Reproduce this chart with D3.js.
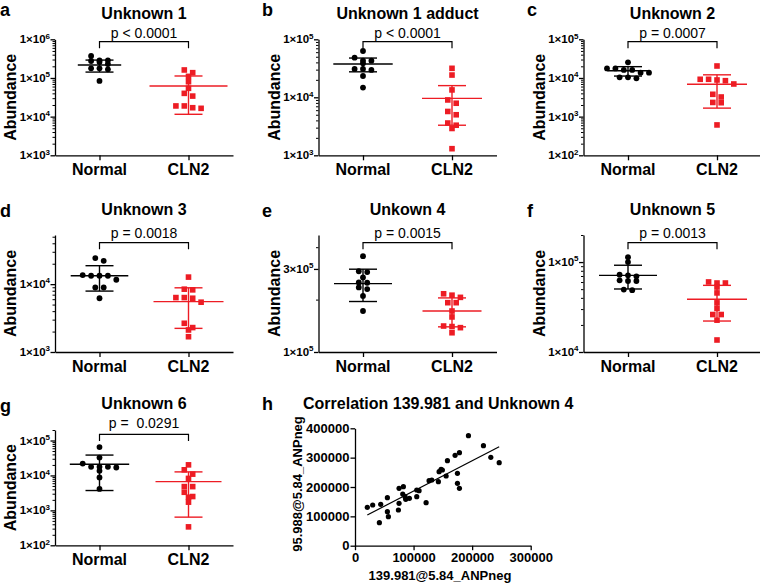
<!DOCTYPE html>
<html><head><meta charset="utf-8">
<script src="https://cdn.jsdelivr.net/npm/d3@7"></script>
<style>
body{margin:0;background:#fff}
text{font-family:"Liberation Sans",Arial,Helvetica,sans-serif}
</style>
</head><body>
<svg id="chart" width="760" height="583"></svg>
<script>
// ---------------- DATA ----------------
const groups = ["Normal", "CLN2"];
const panelLetters = ["a", "b", "c", "d", "e", "f", "g"];
const panelTitles = ["Unknown 1", "Unknown 1 adduct", "Unknown 2", "Unknown 3", "Unkown 4", "Unknown 5", "Unknown 6"];
const pLabels = ["p < 0.0001", "p < 0.0001", "p = 0.0007", "p = 0.0018", "p = 0.0015", "p = 0.0013", "p =  0.0291"];
const yDomains = [[1e3, 1e6], [1e3, 1e5], [1e2, 1e5], [1e3, 5.3e4], [1e5, 4.7e5], [1e4, 2e5], [1e2, 2e5]];
const yTickValues = [[1e3, 1e4, 1e5, 1e6], [1e3, 1e4, 1e5], [1e2, 1e3, 1e4, 1e5], [1e3, 1e4], [1e5, 3e5], [1e4, 1e5], [1e2, 1e3, 1e4, 1e5]];

const unknown1Normal = [370000, 286000, 259000, 275000, 286000, 178000, 167000, 178000, 230000, 83600];
const unknown1CLN2 = [137000, 161000, 110000, 80000, 54000, 40000, 34000, 18900, 16400, 17000, 18900];
const adductNormal = [62900, 42800, 48200, 42800, 38500, 30800, 30800, 29600, 23300, 14700];
const adductCLN2 = [31600, 24200, 13400, 9000, 7900, 5700, 5000, 3300, 3600, 2900, 1300];
const unknown2Normal = [25400, 17700, 17700, 16100, 16100, 13700, 13700, 10400, 9800, 10400];
const unknown2CLN2 = [20400, 9240, 8500, 8870, 9240, 6990, 3780, 3220, 2290, 2330, 610];
const unknown3Normal = [24200, 22100, 13600, 13300, 13300, 13300, 11600, 8920, 8920, 6200];
const unknown3CLN2 = [12700, 8430, 8240, 6340, 5420, 6200, 6340, 2650, 2290, 2110, 1680];
const unknown4Normal = [355000, 291000, 288000, 268000, 250000, 251000, 230000, 235000, 210000, 172000];
const unknown4CLN2 = [212000, 216000, 206000, 192000, 192000, 172000, 159000, 141000, 140000, 138000, 129000];
const unknown5Normal = [113500, 100000, 72400, 69400, 71200, 62700, 61600, 61600, 48700, 49500];
const unknown5CLN2 = [60100, 58500, 58500, 52800, 45400, 35200, 30500, 26100, 26100, 22600, 13600];
const unknown6Normal = [65000, 32400, 21900, 17600, 16900, 17600, 17600, 13600, 8780, 4120];
const unknown6CLN2 = [20100, 14500, 10900, 8230, 4790, 4790, 3300, 2490, 2380, 1720, 337];

const normalMean = [216000, 37500, 15400, 13300, 247000, 71200, 21000];
const normalSD   = [74000, 10000, 4200, 5400, 52000, 21000, 17300];
const cln2Mean   = [62000, 9600, 6860, 5530, 172000, 38600, 6640];
const cln2SD     = [50500, 6300, 5200, 3300, 32500, 16500, 6000];

const corrTitle = "Correlation 139.981 and Unknown 4";
const corrXLabel = "139.981@5.84_ANPneg";
const corrYLabel = "95.988@5.84_ANPneg";
const corrX = [21000,30200,43900,41600,55300,55300,57000,74100,75200,75200,82600,81500,85500,86600,92900,105400,105400,109400,121400,126500,131100,142400,143600,147000,149200,155600,157800,170900,174900,174900,178300,178300,193700,219300,231900,246200];
const corrY = [130800,138700,141000,78400,163600,115800,98800,121600,144400,195500,201000,176100,166900,158000,161400,189700,166900,187400,146500,221400,223800,218000,252100,260200,257900,237500,289600,307800,246700,212600,316800,195500,374800,340700,301200,282800];
const corrXTicks = [0, 100000, 200000, 300000];
const corrYTicks = [0, 100000, 200000, 300000, 400000];
const fitSlope = 1.033, fitIntercept = 82900;

const normalSets = [unknown1Normal, adductNormal, unknown2Normal, unknown3Normal, unknown4Normal, unknown5Normal, unknown6Normal];
const cln2Sets = [unknown1CLN2, adductCLN2, unknown2CLN2, unknown3CLN2, unknown4CLN2, unknown5CLN2, unknown6CLN2];

// ---------------- LAYOUT ----------------
const colX = [55, 318.5, 583.5];
const letterX = [0, 262, 527];
const rows = [
  {top: 39.3, bottom: 155.3, letterY: 15.5, titleY: 19, pY: 37.5, bracketY: 41.7},
  {top: 235, bottom: 352, letterY: 216.5, titleY: 215, pY: 238.3, bracketY: 242.7},
  {top: 430, bottom: 545.3, letterY: 411.5, titleY: 409, pY: 428.3, bracketY: 434.3}
];
const meanHalf = [[21.7, 39], [29.7, 30], [20.7, 30], [28.8, 35], [29, 29.5], [29, 30], [29.7, 33]];
const capHalf = 14;
const axisLen = 178;
const RED = "#ed1c24", BLACK = "#000";
const dotR = 2.9, sq = 5.6, swarmStep = 8.4;

const svg = d3.select("#chart");

function swarm(values, yScale) {
  const pts = values.map((v, i) => ({v, i, y: yScale(v)})).sort((a, b) => a.y - b.y);
  const clusters = [];
  let cur = null;
  for (const p of pts) {
    if (!cur || p.y - cur.start > 4.8) { cur = {start: p.y, items: []}; clusters.push(cur); }
    cur.items.push(p);
  }
  clusters.forEach(c => {
    const n = c.items.length;
    c.items.forEach((p, j) => { p.dx = (j - (n - 1) / 2) * swarmStep; });
  });
  return pts;
}

function supLabel(sel, v) {
  const e = Math.floor(Math.log10(v) + 1e-9);
  const m = Math.round(v / Math.pow(10, e));
  sel.append("tspan").text(m + "\u00d710");
  sel.append("tspan").attr("dy", -4.8).attr("font-size", 8).text(e);
}

for (let i = 0; i < 7; i++) {
  const col = i % 3, row = rows[Math.floor(i / 3)];
  const ax = colX[col];
  const g = svg.append("g");
  const y = d3.scaleLog().domain(yDomains[i]).range([row.bottom, row.top]);
  const x = d3.scalePoint().domain(groups).range([ax, ax + axisLen]).padding(0.5);

  g.append("text").attr("x", letterX[col]).attr("y", row.letterY)
    .attr("font-size", 18).attr("font-weight", "bold").text(panelLetters[i]);
  g.append("text").attr("x", ax + axisLen / 2).attr("y", row.titleY).attr("text-anchor", "middle")
    .attr("font-size", 16).attr("font-weight", "bold").text(panelTitles[i]);

  const [d0, d1] = yDomains[i];
  const minor = [];
  for (let e = Math.floor(Math.log10(d0)); e <= Math.ceil(Math.log10(d1)); e++) {
    for (let k = 1; k <= 9; k++) {
      const v = k * Math.pow(10, e);
      if (v >= d0 && v <= d1 * 1.0001 && !yTickValues[i].includes(v)) minor.push(v);
    }
  }
  const minorAxis = g.append("g").attr("transform", `translate(${ax},0)`)
    .call(d3.axisLeft(y).tickValues(minor).tickSize(2.5).tickSizeOuter(0).tickFormat(""));
  minorAxis.select(".domain").remove();
  const yAxis = g.append("g").attr("transform", `translate(${ax},0)`)
    .call(d3.axisLeft(y).tickValues(yTickValues[i]).tickSize(4.5).tickSizeOuter(0).tickFormat(""));
  yAxis.selectAll("path,line").attr("stroke", "#000").attr("stroke-width", 1.3);
  minorAxis.selectAll("line").attr("stroke", "#000").attr("stroke-width", 1);
  yTickValues[i].forEach(v => {
    const t = g.append("text").attr("x", ax - 5).attr("y", y(v) + 4).attr("text-anchor", "end")
      .attr("font-size", 11.5).attr("font-weight", "bold");
    supLabel(t, v);
  });
  g.append("text").attr("transform", `translate(${ax - 39},${(row.top + row.bottom) / 2}) rotate(-90)`)
    .attr("text-anchor", "middle").attr("font-size", 16).attr("font-weight", "bold").text("Abundance");

  const xAxis = g.append("g").attr("transform", `translate(0,${row.bottom})`)
    .call(d3.axisBottom(x).tickSize(5).tickSizeOuter(0).tickFormat(""));
  xAxis.selectAll("path,line").attr("stroke", "#000").attr("stroke-width", 1.3);
  groups.forEach(gr => {
    g.append("text").attr("x", x(gr)).attr("y", row.bottom + 20).attr("text-anchor", "middle")
      .attr("font-size", 16).attr("font-weight", "bold").text(gr);
  });

  const bx0 = x("Normal"), bx1 = x("CLN2");
  g.append("path").attr("d", `M${bx0},${row.bracketY + 6.6}V${row.bracketY}H${bx1}V${row.bracketY + 6.6}`)
    .attr("fill", "none").attr("stroke", "#000").attr("stroke-width", 1.2);
  g.append("text").attr("x", (bx0 + bx1) / 2).attr("y", row.pY).attr("text-anchor", "middle")
    .attr("font-size", 14).style("white-space", "pre").text(pLabels[i]);

  const stats = [
    {name: "Normal", vals: normalSets[i], mean: normalMean[i], sd: normalSD[i], color: BLACK, half: meanHalf[i][0]},
    {name: "CLN2", vals: cln2Sets[i], mean: cln2Mean[i], sd: cln2SD[i], color: RED, half: meanHalf[i][1]}
  ];
  stats.forEach(s => {
    const cx = x(s.name);
    const pts = swarm(s.vals, y);
    if (s.name === "Normal") {
      g.selectAll(null).data(pts).enter().append("circle")
        .attr("cx", d => cx + d.dx).attr("cy", d => d.y).attr("r", dotR).attr("fill", s.color);
    } else {
      g.selectAll(null).data(pts).enter().append("rect")
        .attr("x", d => cx + d.dx - sq / 2).attr("y", d => d.y - sq / 2)
        .attr("width", sq).attr("height", sq).attr("fill", s.color);
    }
    const ym = y(s.mean), yt = y(s.mean + s.sd), yb = y(s.mean - s.sd);
    const eb = g.append("g").attr("stroke", s.color).attr("stroke-width", 1.4).attr("fill", "none");
    eb.append("line").attr("x1", cx - s.half).attr("x2", cx + s.half).attr("y1", ym).attr("y2", ym);
    eb.append("line").attr("x1", cx).attr("x2", cx).attr("y1", yt).attr("y2", yb);
    eb.append("line").attr("x1", cx - capHalf).attr("x2", cx + capHalf).attr("y1", yt).attr("y2", yt);
    eb.append("line").attr("x1", cx - capHalf).attr("x2", cx + capHalf).attr("y1", yb).attr("y2", yb);
  });
}

// ---------------- PANEL h ----------------
(function () {
  const g = svg.append("g");
  const x = d3.scaleLinear().domain([0, 300000]).range([355, 530.7]);
  const y = d3.scaleLinear().domain([0, 400000]).range([545.7, 428.3]);
  g.append("text").attr("x", 262).attr("y", 410).attr("font-size", 18).attr("font-weight", "bold").text("h");
  g.append("text").attr("x", 303).attr("y", 409).attr("font-size", 16).attr("font-weight", "bold").text(corrTitle);

  const ya = g.append("g").attr("transform", "translate(355,0)")
    .call(d3.axisLeft(y).tickValues(corrYTicks).tickSize(4.5).tickSizeOuter(0).tickFormat(d3.format("d")));
  const xa = g.append("g").attr("transform", "translate(0,545.7)")
    .call(d3.axisBottom(x).tickValues(corrXTicks).tickSize(4.5).tickSizeOuter(0).tickFormat(d3.format("d")));
  [ya, xa].forEach(a => {
    a.selectAll("path,line").attr("stroke", "#000").attr("stroke-width", 1.3);
    a.selectAll("text").attr("font-size", 13).attr("font-weight", "bold").attr("fill", "#000")
      .attr("font-family", "Liberation Sans, Arial, sans-serif");
  });
  ya.selectAll("text").attr("x", -5.5);
  xa.selectAll("text").attr("y", 7);

  g.append("text").attr("x", 440).attr("y", 580).attr("text-anchor", "middle")
    .attr("font-size", 13).attr("font-weight", "bold").text(corrXLabel);
  g.append("text").attr("transform", "translate(302,484) rotate(-90)").attr("text-anchor", "middle")
    .attr("font-size", 13).attr("font-weight", "bold").text(corrYLabel);

  const xmin = d3.min(corrX), xmax = d3.max(corrX);
  g.append("line").attr("x1", x(xmin)).attr("x2", x(xmax))
    .attr("y1", y(fitIntercept + fitSlope * xmin)).attr("y2", y(fitIntercept + fitSlope * xmax))
    .attr("stroke", "#000").attr("stroke-width", 1.2);
  g.selectAll(null).data(corrX.map((v, i) => [v, corrY[i]])).enter().append("circle")
    .attr("cx", d => x(d[0])).attr("cy", d => y(d[1])).attr("r", 2.6).attr("fill", "#000");
})();
</script>
</body></html>
